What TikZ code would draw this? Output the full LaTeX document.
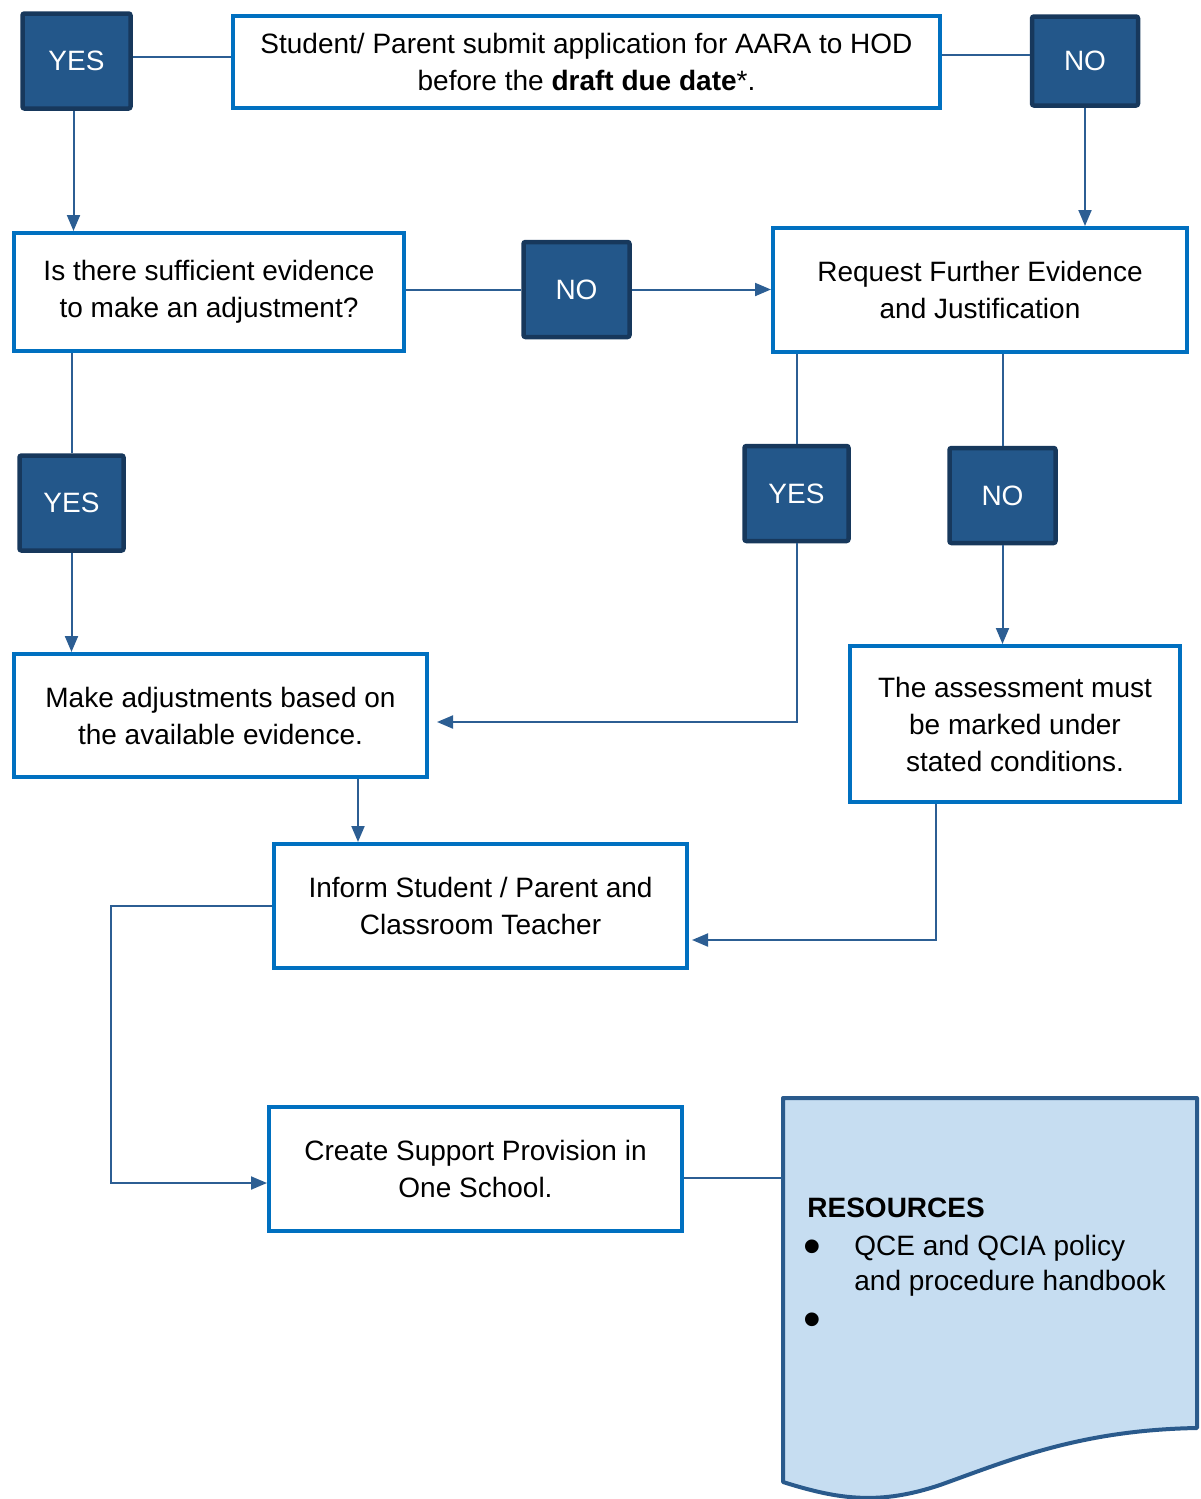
\documentclass[tikz,border=0pt]{standalone}
\usepackage{fontspec}
\setmainfont{Liberation Sans}
\usetikzlibrary{arrows.meta}

\definecolor{decfill}{HTML}{23578A}
\definecolor{decedge}{HTML}{17385C}
\definecolor{procedge}{HTML}{0070C0}
\definecolor{linkblue}{HTML}{2C5E93}
\definecolor{resfill}{HTML}{C6DDF1}
\definecolor{resedge}{HTML}{2A5A8C}

\tikzset{
  process/.style={draw=procedge, line width=2pt, fill=white, align=center, inner sep=2pt},
  decision/.style={draw=decedge, fill=decfill, line width=2.25pt, rounded corners=1pt,
    text=white, minimum width=53pt, minimum height=47.5pt},
  link/.style={draw=linkblue, line width=1pt},
  arrowlink/.style={link, -{Triangle[length=8pt,width=6.5pt]}},
}

\begin{document}
\begin{tikzpicture}[x=0.5pt, y=-0.5pt, font=\fontsize{14}{18.5}\selectfont]
\useasboundingbox (0,0) rectangle (1200,1499);

\node[decision, minimum width=54pt] (yesA) at (76.5,61) {YES};
\node[process, minimum width=353.5pt, minimum height=46pt] (apply) at (586.5,62)
  {Student/ Parent submit application for AARA to HOD\\before the \textbf{draft due date}*.};
\node[decision, minimum height=44.5pt] (noA) at (1085,61) {NO};

\node[process, minimum width=195pt, minimum height=59pt] (evidence) at (209,292)
  {Is there sufficient evidence\\to make an adjustment?};
\node[decision] (noB) at (576.5,289.5) {NO};
\node[process, minimum width=207pt, minimum height=62pt] (request) at (980,290)
  {Request Further Evidence\\and Justification};

\node[decision, minimum width=52pt] (yesB) at (71.5,503) {YES};
\node[decision, minimum width=52pt] (yesC) at (796.5,493.5) {YES};
\node[decision] (noC) at (1002.5,495.5) {NO};

\node[process, minimum width=206.5pt, minimum height=61.5pt] (adjust) at (220.5,715.5)
  {Make adjustments based on\\the available evidence.};
\node[process, minimum width=165pt, minimum height=78pt] (marked) at (1015,724)
  {The assessment must\\be marked under\\stated conditions.};
\node[process, minimum width=206.5pt, minimum height=62pt] (inform) at (480.5,906)
  {Inform Student / Parent and\\Classroom Teacher};
\node[process, minimum width=206.5pt, minimum height=62pt] (provision) at (475.5,1169)
  {Create Support Provision in\\One School.};

\draw[resedge, fill=resfill, line width=2pt, line join=round]
  (783,1098) -- (1197,1098) -- (1197,1428)
  .. controls (1080,1430) and (1010,1460) .. (940,1485)
  .. controls (880,1505) and (840,1500) .. (783,1482) -- cycle;
\coordinate (resIn) at (783,1178);
\node[anchor=base west, inner sep=0pt] (resTitle) at (807,1217) {\textbf{RESOURCES}};
\node[inner sep=0pt] (bulletA) at (812,1252) {\scalebox{1.8}{\textbullet}};
\node[anchor=base west, inner sep=0pt] (itemA) at (854,1255) {QCE and QCIA policy};
\node[anchor=base west, inner sep=0pt] (itemB) at (854,1290) {and procedure handbook};
\node[inner sep=0pt] (bulletB) at (812,1325) {\scalebox{1.8}{\textbullet}};

\draw[link] ([yshift=2pt]yesA.east) -- ([yshift=2pt]yesA.east -| apply.west);
\draw[link] ([yshift=3.5pt]apply.east) -- ([yshift=3.5pt]apply.east -| noA.west);
\draw[arrowlink] ([xshift=-1.5pt]yesA.south) -- ([xshift=-1.5pt]yesA.south |- evidence.north);
\draw[arrowlink] (noA.south) -- (noA.south |- request.north);
\draw[link] (evidence.east |- noB.west) -- (noB.west);
\draw[arrowlink] (noB.east) -- (noB.east -| request.west);
\draw[link] (yesB.north |- evidence.south) -- (yesB.north);
\draw[arrowlink] (yesB.south) -- (yesB.south |- adjust.north);
\draw[link] (yesC.north |- request.south) -- (yesC.north);
\draw[link] (noC.north |- request.south) -- (noC.north);
\draw[arrowlink] (noC.south) -- (noC.south |- marked.north);
\draw[arrowlink, shorten >=4pt] (yesC.south) |- ([yshift=-3.25pt]adjust.east);
\coordinate (adjustOut) at ([xshift=68.75pt]adjust.south);
\draw[arrowlink] (adjustOut) -- (adjustOut |- inform.north);
\coordinate (markedOut) at ([xshift=-39.5pt]marked.south);
\draw[arrowlink, shorten >=1.5pt] (markedOut) |- ([yshift=-17pt]inform.east);
\draw[arrowlink] (inform.west) -- ++(-80.5pt,0) |- ([yshift=-7pt]provision.west);
\draw[link] (provision.east |- resIn) -- (resIn);

\end{tikzpicture}
\end{document}
